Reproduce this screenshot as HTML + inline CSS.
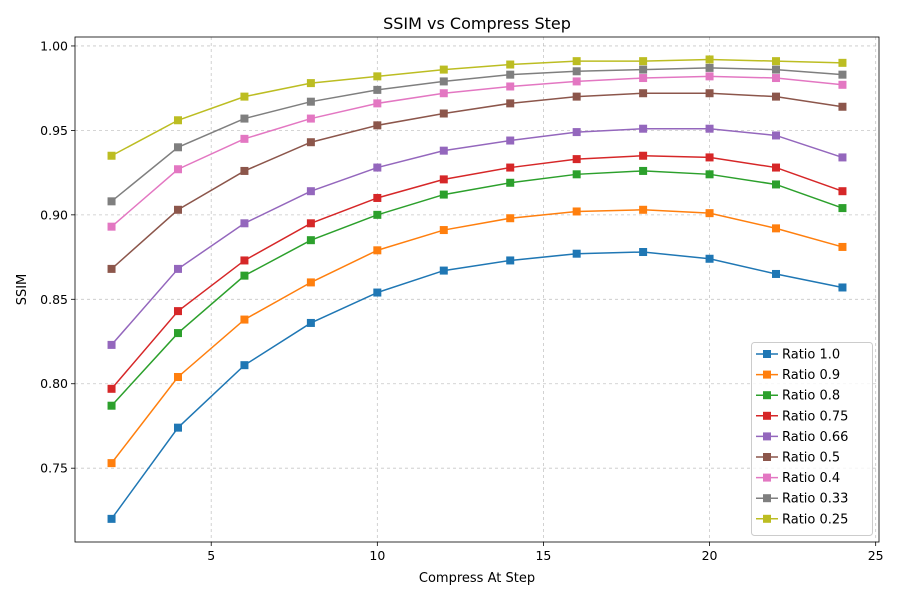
<!DOCTYPE html>
<html><head><meta charset="utf-8"><style>
body{margin:0;background:#fff;font-family:"Liberation Sans","DejaVu Sans",sans-serif}
svg text{font-family:"DejaVu Sans","Liberation Sans",sans-serif}
</style></head><body>
<svg id="chart" width="900" height="600" viewBox="0 0 900 600"></svg>
<script>
const steps = [2,4,6,8,10,12,14,16,18,20,22,24];
const seriesNames = ["Ratio 1.0","Ratio 0.9","Ratio 0.8","Ratio 0.75","Ratio 0.66","Ratio 0.5","Ratio 0.4","Ratio 0.33","Ratio 0.25"];
const r100 = [0.720,0.774,0.811,0.836,0.854,0.867,0.873,0.877,0.878,0.874,0.865,0.857];
const r090 = [0.753,0.804,0.838,0.860,0.879,0.891,0.898,0.902,0.903,0.901,0.892,0.881];
const r080 = [0.787,0.830,0.864,0.885,0.900,0.912,0.919,0.924,0.926,0.924,0.918,0.904];
const r075 = [0.797,0.843,0.873,0.895,0.910,0.921,0.928,0.933,0.935,0.934,0.928,0.914];
const r066 = [0.823,0.868,0.895,0.914,0.928,0.938,0.944,0.949,0.951,0.951,0.947,0.934];
const r050 = [0.868,0.903,0.926,0.943,0.953,0.960,0.966,0.970,0.972,0.972,0.970,0.964];
const r040 = [0.893,0.927,0.945,0.957,0.966,0.972,0.976,0.979,0.981,0.982,0.981,0.977];
const r033 = [0.908,0.940,0.957,0.967,0.974,0.979,0.983,0.985,0.986,0.987,0.986,0.983];
const r025 = [0.935,0.956,0.970,0.978,0.982,0.986,0.989,0.991,0.991,0.992,0.991,0.990];
const xTicks = [5,10,15,20,25];
const yTicks = [0.75,0.80,0.85,0.90,0.95,1.00];
const colors = ["#1f77b4","#ff7f0e","#2ca02c","#d62728","#9467bd","#8c564b","#e377c2","#7f7f7f","#bcbd22"];
const allSeries = [r100,r090,r080,r075,r066,r050,r040,r033,r025];

const L=75,R=879,T=37,B=542;
const xMin=0.9,xMax=25.1,yMin=0.7063,yMax=1.0053;
const sx=v=>L+(v-xMin)/(xMax-xMin)*(R-L);
const sy=v=>B-(v-yMin)/(yMax-yMin)*(B-T);
const svg=document.getElementById('chart');
const NS="http://www.w3.org/2000/svg";
function mk(tag,attrs,parent){const e=document.createElementNS(NS,tag);for(const k in attrs)e.setAttribute(k,attrs[k]);(parent||svg).appendChild(e);return e;}

const grid=mk('g',{});


xTicks.forEach(t=>{
  const x=sx(t);
  mk('line',{x1:x,x2:x,y1:T,y2:B,stroke:'#b0b0b0','stroke-width':0.8,'stroke-dasharray':'3,3',opacity:0.7},grid);
  mk('line',{x1:x,x2:x,y1:B,y2:B+4,stroke:'#000','stroke-width':0.8});
  const tx=mk('text',{x:x,y:B+18,'text-anchor':'middle','font-size':12.5});
  tx.textContent=t;
  
  
});
yTicks.forEach(t=>{
  const y=sy(t);
  mk('line',{x1:L,x2:R,y1:y,y2:y,stroke:'#b0b0b0','stroke-width':0.8,'stroke-dasharray':'3,3',opacity:0.7},grid);
  mk('line',{x1:L-4,x2:L,y1:y,y2:y,stroke:'#000','stroke-width':0.8});
  const tx=mk('text',{x:L-7,y:y+4.5,'text-anchor':'end','font-size':12.5});
  tx.textContent=t.toFixed(2);
  
  
});

allSeries.forEach((vals,i)=>{
  const g=mk('g',{});
  
  
  mk('polyline',{points:vals.map((v,j)=>sx(steps[j])+','+sy(v)).join(' '),fill:'none',stroke:colors[i],'stroke-width':1.5},g);
  vals.forEach((v,j)=>{
    const p=mk('rect',{x:sx(steps[j])-4,y:sy(v)-4,width:8,height:8,fill:colors[i]},g);
    
    
  });
});

const frame=mk('rect',{x:L,y:T,width:R-L,height:B-T,fill:'none',stroke:'#000','stroke-width':0.8});



const title=mk('text',{x:(L+R)/2,y:29,'text-anchor':'middle','font-size':16});
title.textContent='SSIM vs Compress Step';


const xl=mk('text',{x:(L+R)/2,y:582,'text-anchor':'middle','font-size':13});
xl.textContent='Compress At Step';


const yl=mk('text',{x:26,y:(T+B)/2,'text-anchor':'middle','font-size':13,transform:'rotate(-90 26 '+(T+B)/2+')'});
yl.textContent='SSIM';



const leg=mk('g',{});


mk('rect',{x:751.5,y:342.5,width:121,height:193,rx:3,fill:'#fff','fill-opacity':0.8,stroke:'#ccc'},leg);
seriesNames.forEach((n,i)=>{
  const y=354+i*20.6;
  const e=mk('g',{},leg);
  
  
  mk('line',{x1:756,x2:778,y1:y,y2:y,stroke:colors[i],'stroke-width':1.5},e);
  mk('rect',{x:763,y:y-4,width:8,height:8,fill:colors[i]},e);
  const t=mk('text',{x:782,y:y+4.5,'font-size':13},e);
  t.textContent=n;
});
</script>
</body></html>
